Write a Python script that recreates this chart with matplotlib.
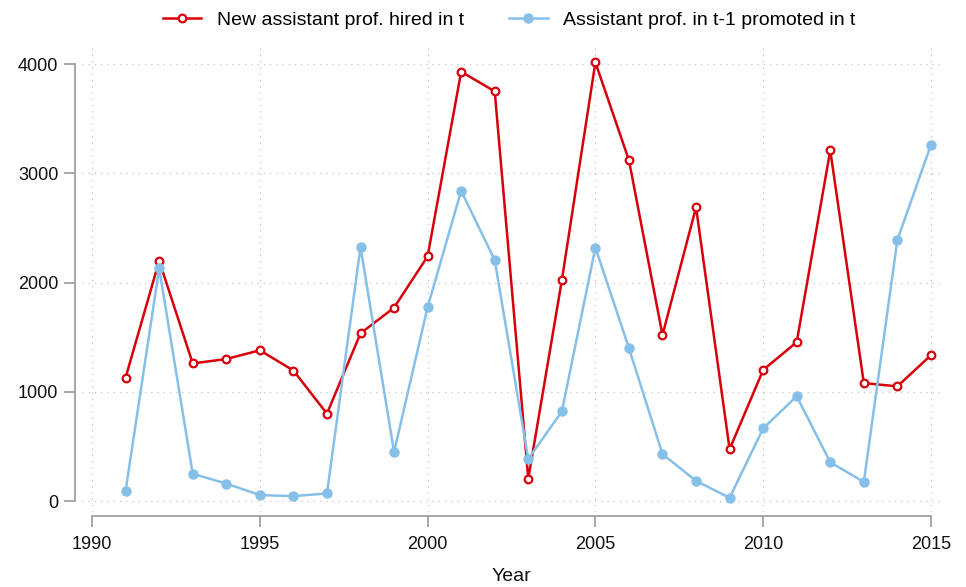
import matplotlib
matplotlib.use("Agg")
import matplotlib.pyplot as plt
from matplotlib.ticker import FixedLocator

years = list(range(1991, 2016))
new_hired = [1130, 2200, 1260, 1300, 1380, 1195, 800, 1535, 1770, 2240,
             3930, 3750, 205, 2020, 4015, 3120, 1520, 2690, 475, 1200,
             1455, 3210, 1080, 1050, 1335]
promoted = [95, 2130, 250, 160, 55, 45, 70, 2325, 450, 1775,
            2840, 2205, 385, 820, 2320, 1400, 430, 185, 30, 665,
            960, 355, 175, 2390, 3260]
x_ticks = [1990, 1995, 2000, 2005, 2010, 2015]
y_ticks = [0, 1000, 2000, 3000, 4000]

RED = "#D7000B"
BLUE = "#86C0E9"
GRID = "#C4C4C4"
SPINE = "#A0A0A0"

plt.rcParams["font.family"] = ["Liberation Sans", "DejaVu Sans"]

fig = plt.figure(figsize=(9.66, 5.87), dpi=100)
W, H = 966, 587
left, right, top, bottom = 82, 941, 47, 512
ax = fig.add_axes([left / W, 1 - bottom / H, (right - left) / W, (bottom - top) / H])

ax.plot(years, new_hired, color=RED, lw=1.8, marker="o", ms=5.5,
        mfc="white", mec=RED, mew=1.6, label="New assistant prof. hired in t", zorder=3)
ax.plot(years, promoted, color=BLUE, lw=1.8, marker="o", ms=6.5,
        mfc=BLUE, mec=BLUE, label="Assistant prof. in t-1 promoted in t", zorder=4)

ax.set_xlim(1989.7, 2015.3)
ax.set_ylim(-100, 4156)
ax.xaxis.set_major_locator(FixedLocator(x_ticks))
ax.yaxis.set_major_locator(FixedLocator(y_ticks))

ax.grid(True, color=GRID, linestyle=(0, (1, 4)), linewidth=0.9)
ax.set_axisbelow(True)

for s in ["top", "right"]:
    ax.spines[s].set_visible(False)
ax.spines["left"].set_position(("outward", 5))
ax.spines["bottom"].set_position(("outward", 3))
ax.spines["left"].set_bounds(0, 4000)
ax.spines["bottom"].set_bounds(1990, 2015)
for s in ["left", "bottom"]:
    ax.spines[s].set_color(SPINE)
    ax.spines[s].set_linewidth(1.3)

ax.tick_params(axis="both", colors=SPINE, length=8, width=1.3, labelsize=13,
               labelcolor="#111111")
ax.tick_params(axis="y", pad=4)
ax.tick_params(axis="x", pad=6)
ax.set_xlabel("Year", fontsize=14, color="#111111", labelpad=11)

leg = fig.legend(loc="center", bbox_to_anchor=(0.527, 1 - 20 / H), ncol=2,
                 frameon=False, fontsize=14, handlelength=2.0, columnspacing=2.3,
                 handletextpad=0.8)

fig.savefig("out.png", dpi=100, facecolor="white")
